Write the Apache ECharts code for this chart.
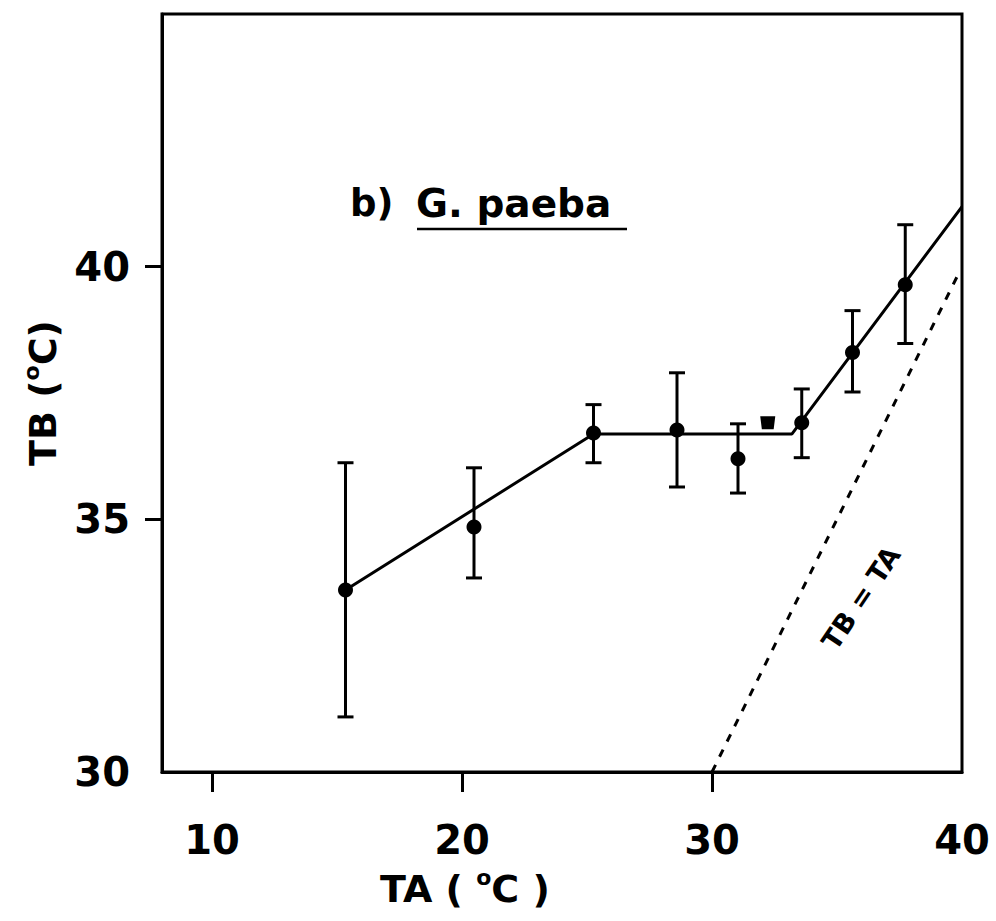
<!DOCTYPE html>
<html>
<head>
<meta charset="utf-8">
<script src="https://cdn.jsdelivr.net/npm/echarts@6/dist/echarts.min.js"></script>
<style>
html,body{margin:0;padding:0;background:#fff;}
#chart{width:996px;height:921px;}
</style>
</head>
<body>
<div id="chart"></div>
<script>
// ---- data ----
const ta      = [15.34, 20.48, 25.26, 28.6, 31.04, 33.59, 35.62, 37.73];
const tb      = [33.60, 34.85, 36.71, 36.77, 36.20, 36.91, 38.30, 39.64];
const errLow  = [31.09, 33.84, 36.12, 35.64, 35.52, 36.22, 37.52, 38.48];
const errHigh = [36.12, 36.02, 37.27, 37.90, 36.89, 37.58, 39.13, 40.83];
const fitTa   = [15.34, 25.26, 33.2, 40];
const fitTb   = [33.60, 36.69, 36.69, 41.19];
const eqTa    = [30, 39.8];
const eqTb    = [30, 39.8];
const sigTa   = [32.23];
const sigTb   = [36.91];
const xTickLabels = [10, 20, 30, 40];
const xTicks      = [10, 20, 30];
const yTickLabels = [30, 35, 40];
const yTicks      = [35, 40];

const FONT = 'DejaVu Sans';
const chart = echarts.init(document.getElementById('chart'), null, {renderer: 'svg'});

const zip = (a, b) => a.map((v, i) => [v, b[i]]);

const titleRich = {
  a: {fontFamily: FONT, fontWeight: 'bold', fontSize: 38, lineHeight: 42, color: '#000', fill: '#000', verticalAlign: 'bottom'},
  s: {fontFamily: FONT, fontWeight: 'bold', fontSize: 22, lineHeight: 42, color: '#000', fill: '#000', verticalAlign: 'top'}
};

const option = {
  backgroundColor: '#fff',
  animation: false,
  grid: {left: 162, right: 34, top: 14, bottom: 149, show: true, borderColor: '#000', borderWidth: 3, backgroundColor: 'transparent'},
  xAxis: {
    type: 'value', min: 8, max: 40,
    axisLine: {show: true, lineStyle: {color: '#000', width: 3}},
    axisTick: {show: true, customValues: xTicks, length: 20, lineStyle: {color: '#000', width: 3}},
    axisLabel: {customValues: xTickLabels, margin: 48, color: '#000', fontFamily: FONT, fontWeight: 'bold', fontSize: 40},
    splitLine: {show: false}
  },
  yAxis: {
    type: 'value', min: 30, max: 45,
    name: '{a|TB (}{s|o}{a|C)}',
    nameLocation: 'middle', nameGap: 100, nameRotate: 90,
    nameTextStyle: {rich: titleRich},
    axisLine: {show: true, lineStyle: {color: '#000', width: 3}},
    axisTick: {show: true, customValues: yTicks, length: 17, lineStyle: {color: '#000', width: 3}},
    axisLabel: {customValues: yTickLabels, margin: 32, color: '#000', fontFamily: FONT, fontWeight: 'bold', fontSize: 40},
    splitLine: {show: false}
  },
  graphic: [
    {type: 'text', left: 350, top: 185, style: {text: 'b)', font: 'bold 37px "DejaVu Sans"', fill: '#000'}},
    {type: 'text', left: 416, top: 184, style: {text: 'G. paeba', font: 'bold 39px "DejaVu Sans"', fill: '#000'}},
    {type: 'line', shape: {x1: 417, y1: 229, x2: 627, y2: 229}, style: {stroke: '#000', lineWidth: 2.5}},
    {type: 'text', left: 380, top: 866, style: {
      text: '{a|TA ( }{s|o}{a|C )}',
      rich: titleRich
    }},
    {type: 'text', x: 861, y: 598, rotation: 56 * Math.PI / 180,
      style: {text: 'TB = TA', font: 'bold 27px "DejaVu Sans"', fill: '#000', align: 'center', verticalAlign: 'middle'}}
  ],
  series: [
    {
      name: 'TB = TA', type: 'line', data: zip(eqTa, eqTb), symbol: 'none',
      lineStyle: {color: '#000', width: 3, type: [8, 9]}, z: 2
    },
    {
      name: 'fit', type: 'line', data: zip(fitTa, fitTb), symbol: 'none',
      lineStyle: {color: '#000', width: 3}, z: 3
    },
    {
      name: 'SD', type: 'custom',
      data: ta.map((x, i) => [x, errLow[i], errHigh[i]]),
      encode: {x: 0, y: [1, 2]},
      renderItem: (params, api) => {
        const x = api.value(0);
        const pLo = api.coord([x, api.value(1)]);
        const pHi = api.coord([x, api.value(2)]);
        const w = 8;
        const st = {stroke: '#000', lineWidth: 3};
        return {type: 'group', children: [
          {type: 'line', shape: {x1: pLo[0], y1: pLo[1], x2: pHi[0], y2: pHi[1]}, style: st},
          {type: 'line', shape: {x1: pLo[0] - w, y1: pLo[1], x2: pLo[0] + w, y2: pLo[1]}, style: st},
          {type: 'line', shape: {x1: pHi[0] - w, y1: pHi[1], x2: pHi[0] + w, y2: pHi[1]}, style: st}
        ]};
      },
      z: 4
    },
    {
      name: 'TB', type: 'scatter', data: zip(ta, tb), symbol: 'circle', symbolSize: 15,
      itemStyle: {color: '#000', opacity: 1}, z: 5
    },
    {
      name: 'sig', type: 'scatter', data: zip(sigTa, sigTb),
      symbol: 'path://M0,0 L14,0 L12.5,12 L1.5,12 Z', symbolSize: [15, 13],
      itemStyle: {color: '#000', opacity: 1}, z: 5
    }
  ]
};
chart.setOption(option);
</script>
</body>
</html>
